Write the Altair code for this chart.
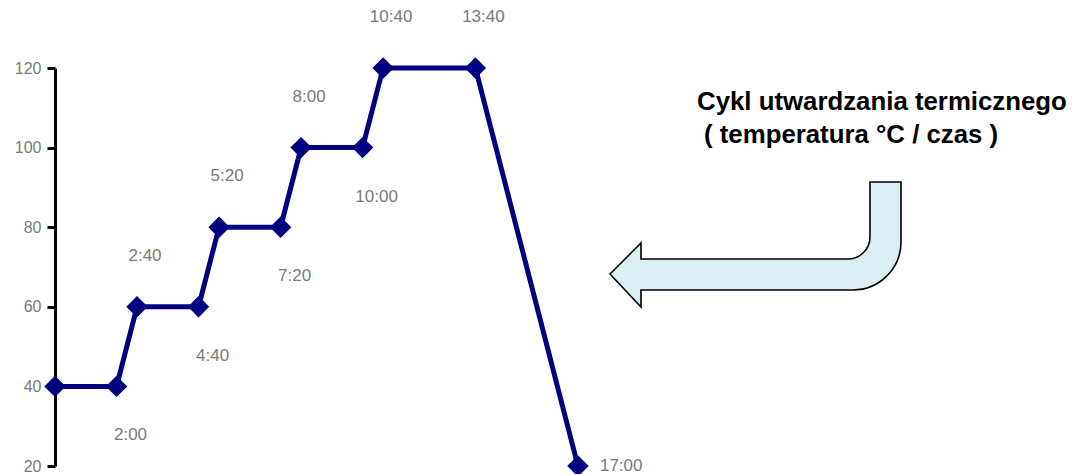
import altair as alt
import pandas as pd

# ---- data ----
minutes = [0, 120, 160, 280, 320, 440, 480, 600, 640, 820, 1020]
temperature = [40, 40, 60, 60, 80, 80, 100, 100, 120, 120, 20]
labels = ["", "2:00", "2:40", "4:40", "5:20", "7:20", "8:00", "10:00", "10:40", "13:40", "17:00"]
y_ticks = [20, 40, 60, 80, 100, 120]
title_lines = ["Cykl utwardzania termicznego", "( temperatura °C / czas )"]

# label placement (style)
above = ["2:40", "5:20", "8:00", "10:40", "13:40"]
below = ["2:00", "4:40", "7:20", "10:00"]
right = ["17:00"]

df = pd.DataFrame({"t": minutes, "temp": temperature, "label": labels})

W, H = 1010, 398
x_scale = alt.Scale(domain=[0, 1970], nice=False, zero=False)
y_scale = alt.Scale(domain=[20, 120], nice=False, zero=False)

base = alt.Chart(df).encode(
    x=alt.X("t:Q", scale=x_scale, axis=None),
    y=alt.Y("temp:Q", scale=y_scale,
            axis=alt.Axis(values=y_ticks, title=None, grid=False,
                          domainColor="black", domainWidth=3,
                          tickColor="black", tickWidth=3, tickSize=8,
                          labelColor="#7a7a7a", labelFontSize=16,
                          labelFont="Liberation Sans", labelPadding=6)),
)

line = base.mark_line(color="#000080", strokeWidth=5)
pts = base.mark_point(shape="diamond", filled=True, color="#000080",
                      size=460, opacity=1)

TXT = "#7a7a7a"
lab_above = base.transform_filter(alt.FieldOneOfPredicate(field="label", oneOf=above)).mark_text(
    dx=8, dy=-51, fontSize=17, font="Liberation Sans", color=TXT, baseline="middle"
).encode(text="label:N")
lab_below = base.transform_filter(alt.FieldOneOfPredicate(field="label", oneOf=below)).mark_text(
    dx=14, dy=49, fontSize=17, font="Liberation Sans", color=TXT, baseline="middle"
).encode(text="label:N")
lab_right = base.transform_filter(alt.FieldOneOfPredicate(field="label", oneOf=right)).mark_text(
    dx=22, dy=0, align="left", fontSize=17, font="Liberation Sans", color=TXT, baseline="middle"
).encode(text="label:N")

# ---- arrow annotation (custom symbol path) ----
ox, oy = 55, 68  # plot origin on page
cx, cy, half = 755.5, 244.5, 145.5
pts_path = [
    ("M", [(610, 274)]),
    ("L", [(641, 243)]),
    ("L", [(641, 259)]),
    ("L", [(848, 259)]),
    ("C", [(860.1, 259), (870, 249.1), (870, 237)]),
    ("L", [(870, 182)]),
    ("L", [(901, 182)]),
    ("L", [(901, 242)]),
    ("C", [(901, 268.5), (879.5, 290), (853, 290)]),
    ("L", [(641, 290)]),
    ("L", [(641, 307)]),
]
segs = []
for cmd, plist in pts_path:
    coords = " ".join(f"{(px - cx) / half:.4f},{(py - cy) / half:.4f}" for px, py in plist)
    segs.append(f"{cmd}{coords}")
arrow_path = " ".join(segs) + " Z"

anno_df = pd.DataFrame({"k": [0]})
arrow = alt.Chart(anno_df).mark_point(
    shape=arrow_path, filled=True, fill="#dbeef4", stroke="black",
    strokeWidth=1.6, opacity=1, size=(2 * half) ** 2
).encode(x=alt.value(cx - ox), y=alt.value(cy - oy))

title1 = alt.Chart(anno_df).mark_text(
    text=title_lines[0], align="left", baseline="alphabetic",
    fontSize=25.8, fontWeight="bold", font="Liberation Sans", color="black"
).encode(x=alt.value(697 - ox), y=alt.value(110 - oy))
title2 = alt.Chart(anno_df).mark_text(
    text=title_lines[1], align="left", baseline="alphabetic",
    fontSize=25.8, fontWeight="bold", font="Liberation Sans", color="black"
).encode(x=alt.value(704 - ox), y=alt.value(143 - oy))

chart = alt.layer(line, pts, lab_above, lab_below, lab_right, arrow, title1, title2).properties(
    width=W, height=H,
    autosize=alt.AutoSizeParams(type="none"),
    padding={"left": 47, "top": 60, "right": 7, "bottom": 8},
).configure_view(stroke=None)

chart.save("out.html", embed_options={"renderer": "svg", "actions": False})
